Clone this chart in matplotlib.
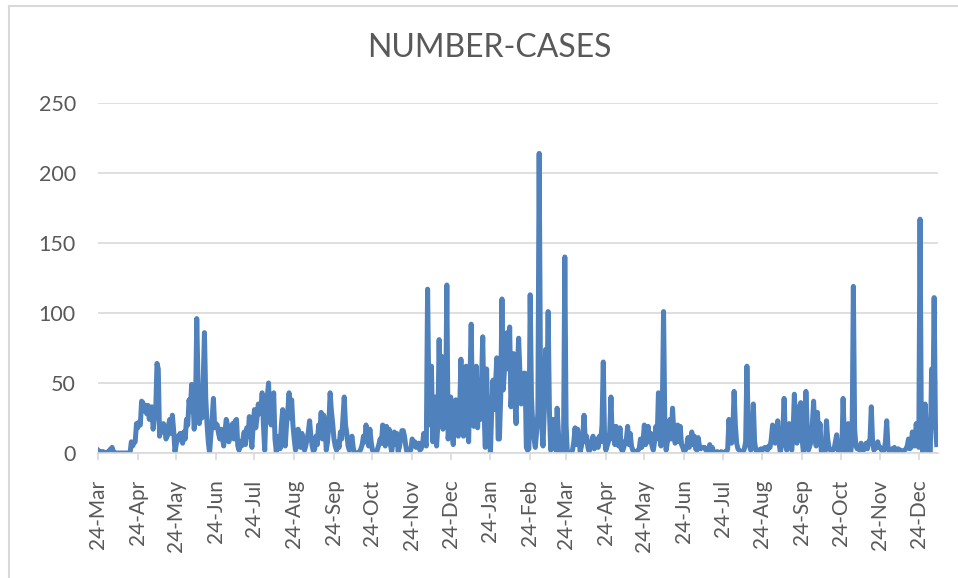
import datetime as dt
import matplotlib
matplotlib.use("Agg")
import matplotlib.pyplot as plt
import matplotlib.dates as mdates
from matplotlib.lines import Line2D

# daily case counts, starting 24-Mar-2020
startDate = dt.date(2020, 3, 24)
cases = [
    2, 1, 1, 0, 1, 0, 0, 0, 1, 2,
    3, 4, 1, 0, 0, 0, 0, 0, 0, 0,
    0, 0, 0, 0, 0, 0, 8, 5, 7, 8,
    21, 18, 22, 20, 37, 36, 30, 34, 28, 34,
    24, 30, 33, 17, 25, 30, 64, 60, 12, 20,
    15, 21, 18, 10, 12, 20, 24, 14, 27, 16,
    1, 6, 12, 10, 14, 9, 7, 15, 10, 24,
    20, 38, 30, 49, 40, 17, 30, 96, 50, 21,
    30, 25, 50, 86, 40, 21, 8, 0, 12, 25,
    39, 18, 21, 20, 14, 10, 17, 12, 5, 15,
    24, 20, 8, 13, 16, 21, 10, 23, 24, 5,
    2, 8, 5, 10, 15, 6, 18, 12, 26, 14,
    4, 20, 31, 18, 25, 35, 28, 30, 43, 20,
    2, 30, 40, 50, 25, 20, 30, 43, 10, 1,
    8, 12, 3, 20, 31, 15, 5, 20, 30, 43,
    25, 38, 20, 10, 2, 6, 17, 10, 4, 14,
    8, 2, 5, 10, 15, 23, 12, 5, 1, 3,
    12, 6, 20, 15, 29, 10, 27, 20, 2, 8,
    20, 43, 30, 21, 10, 5, 2, 8, 4, 15,
    10, 25, 40, 20, 14, 5, 2, 6, 12, 4,
    0, 0, 0, 0, 1, 3, 6, 12, 8, 20,
    10, 5, 17, 8, 2, 1, 0, 0, 3, 6,
    10, 7, 20, 12, 5, 19, 8, 17, 6, 1,
    8, 15, 6, 14, 1, 4, 10, 16, 16, 12,
    5, 0, 0, 0, 3, 10, 6, 8, 4, 5,
    7, 2, 3, 6, 14, 8, 5, 117, 40, 20,
    62, 8, 30, 40, 5, 20, 81, 30, 69, 17,
    40, 25, 120, 10, 20, 40, 15, 6, 25, 38,
    20, 12, 30, 67, 20, 12, 40, 62, 25, 8,
    50, 92, 30, 19, 40, 62, 18, 40, 24, 50,
    83, 30, 4, 60, 25, 12, 0, 30, 52, 31,
    50, 68, 10, 10, 40, 110, 45, 60, 70, 86,
    60, 90, 33, 50, 71, 40, 21, 60, 82, 57,
    35, 50, 57, 57, 4, 2, 3, 113, 40, 20,
    10, 4, 15, 29, 214, 60, 20, 5, 30, 74,
    40, 101, 30, 2, 10, 24, 8, 2, 32, 15,
    0, 0, 0, 5, 140, 20, 0, 0, 0, 0,
    2, 8, 18, 6, 17, 10, 1, 5, 12, 27,
    8, 12, 4, 1, 5, 8, 12, 3, 6, 10,
    4, 12, 8, 20, 65, 10, 2, 5, 8, 15,
    40, 10, 19, 6, 19, 8, 5, 18, 3, 1,
    4, 8, 10, 19, 6, 14, 5, 2, 1, 1,
    1, 2, 3, 10, 4, 8, 20, 6, 10, 19,
    8, 14, 5, 2, 8, 19, 10, 43, 20, 5,
    30, 101, 20, 2, 8, 12, 24, 10, 32, 15,
    7, 10, 20, 8, 19, 6, 4, 1, 2, 5,
    11, 4, 8, 15, 6, 12, 3, 2, 11, 5,
    3, 4, 4, 4, 2, 1, 1, 6, 2, 4,
    1, 0, 0, 1, 0, 0, 1, 0, 0, 1,
    0, 3, 24, 10, 7, 15, 44, 20, 7, 3,
    2, 1, 1, 1, 3, 8, 62, 20, 5, 2,
    10, 35, 8, 2, 1, 2, 2, 3, 2, 3,
    4, 3, 2, 5, 4, 10, 20, 12, 7, 10,
    23, 8, 1, 5, 15, 39, 10, 2, 8, 21,
    6, 2, 15, 42, 20, 7, 33, 15, 36, 10,
    1, 10, 44, 20, 2, 5, 8, 20, 37, 15,
    5, 29, 10, 21, 1, 1, 1, 1, 23, 10,
    4, 2, 2, 2, 3, 8, 13, 2, 1, 1,
    1, 39, 10, 1, 5, 21, 3, 1, 10, 119,
    17, 5, 3, 4, 2, 7, 3, 2, 5, 7,
    3, 8, 10, 33, 8, 2, 3, 4, 8, 4,
    4, 2, 1, 2, 8, 23, 4, 1, 2, 3,
    2, 4, 1, 2, 3, 1, 2, 1, 1, 2,
    3, 5, 10, 3, 4, 15, 8, 5, 21, 10,
    4, 167, 20, 1, 10, 35, 15, 0, 0, 1,
    60, 30, 111, 20, 6,
]
dates = [startDate + dt.timedelta(days=i) for i in range(len(cases))]
yTicks = [0, 50, 100, 150, 200, 250]

plt.rcParams['font.family'] = ['Lato', 'DejaVu Sans']

fig = plt.figure(figsize=(9.58, 5.78), dpi=100)
ax = fig.add_axes([98 / 958, 1 - 453 / 578, 840 / 958, 350 / 578])

ax.plot(dates, cases, color="#4f81bd", linewidth=3.6, solid_joinstyle="round")

ax.set_ylim(0, 250)
ax.set_yticks(yTicks)
ax.set_xlim(startDate, dt.date(2022, 1, 8))
ax.xaxis.set_major_locator(mdates.MonthLocator(bymonthday=24))
ax.xaxis.set_major_formatter(mdates.DateFormatter("%d-%b"))
plt.setp(ax.get_xticklabels(), rotation=90)

ax.grid(axis="y", color="#d9d9d9", linewidth=1.2)
ax.set_axisbelow(True)
for side in ["top", "right", "left"]:
    ax.spines[side].set_visible(False)
ax.spines["bottom"].set_color("#d9d9d9")
ax.spines["bottom"].set_linewidth(1.2)
ax.tick_params(axis="y", length=0, pad=16, labelsize=15.5, labelcolor="#595959")
ax.tick_params(axis="x", length=5, width=1.2, color="#d9d9d9", pad=14,
               labelsize=15, labelcolor="#595959")

fig.text(0.511, 1 - 48 / 578, "NUMBER-CASES", ha="center", va="center",
         fontsize=23, color="#595959")

# chart border: only the top and left edges fall inside the picture
top = 1 - 5.5 / 578
left = 8.5 / 958
fig.lines.append(Line2D([left, 1], [top, top], transform=fig.transFigure,
                        color="#d9d9d9", linewidth=1.5))
fig.lines.append(Line2D([left, left], [0, top], transform=fig.transFigure,
                        color="#d9d9d9", linewidth=1.5))

fig.savefig("out.png", dpi=100)
